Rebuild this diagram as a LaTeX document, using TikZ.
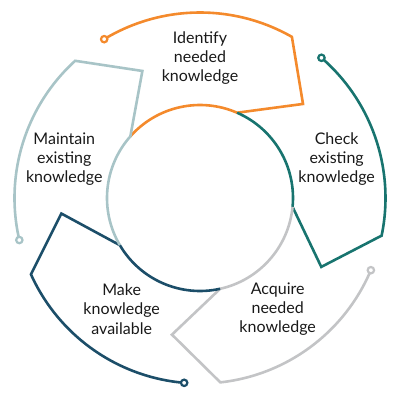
\documentclass[tikz,border=0pt]{standalone}
\usepackage{fontspec}
\setmainfont{Lato}
\definecolor{cOrange}{HTML}{F48A2C}
\definecolor{cTeal}{HTML}{18746F}
\definecolor{cGray}{HTML}{C3C4C6}
\definecolor{cNavy}{HTML}{1C4E69}
\definecolor{cSage}{HTML}{A8C4C7}
\begin{document}
\begin{tikzpicture}[x=1pt,y=1pt,
  seg/.style={line width=2.6pt, line join=miter},
  marker/.style={line width=2.2pt, fill=white},
  lbl/.style={align=center, font=\fontsize{16}{19.2}\selectfont, text=black!90}]
\useasboundingbox (-200pt,-202pt) rectangle (200pt,198pt);
\foreach \k/\col in {0/cOrange,1/cTeal,2/cGray,3/cNavy,4/cSage}{
  \pgfmathsetmacro\r{-72*\k}
  \draw[seg,draw=\col] ({138.5+\r}:93pt)
    arc[start angle={138.5+\r}, end angle={66.5+\r}, radius=93pt]
    -- ({42.4+\r}:139.5pt) -- ({60.3+\r}:185.5pt)
    arc[start angle={60.3+\r}, end angle={121.1+\r}, radius=185.5pt]
    coordinate (m\k);
  \draw[marker,draw=\col] (m\k) circle (3.2pt);
}
\node[lbl] (identify) at (0pt,140pt) {Identify\\needed\\knowledge};
\node[lbl] (check) at (136.7pt,39pt) {Check\\existing\\knowledge};
\node[lbl] (acquire) at (77.7pt,-111pt) {Acquire\\needed\\knowledge};
\node[lbl] (make) at (-78.3pt,-111pt) {Make\\knowledge\\available};
\node[lbl] (maintain) at (-135.7pt,39pt) {Maintain\\existing\\knowledge};
\end{tikzpicture}
\end{document}
